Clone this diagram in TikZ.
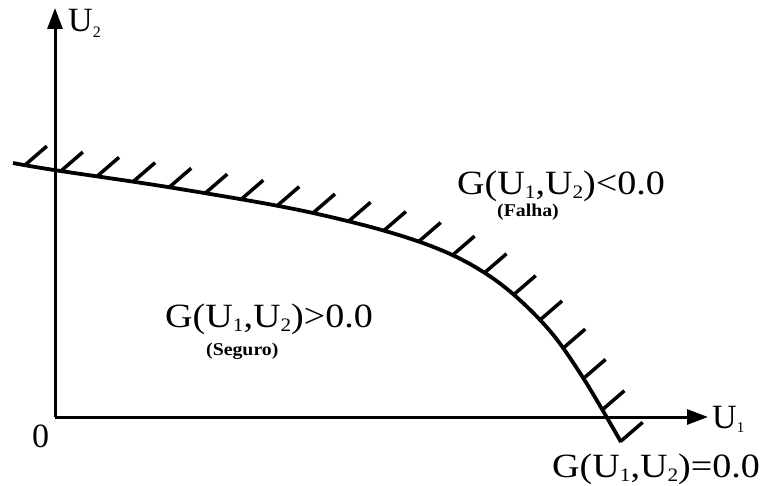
\documentclass[tikz,border=0pt]{standalone}
\usepackage{fontspec}
\usepackage{graphicx}
\setmainfont{Liberation Serif}
\usetikzlibrary{arrows.meta,decorations.markings}
\newcommand\mainsz{\fontsize{34}{36}\selectfont}
\newcommand\subsz[1]{\raisebox{-4pt}{\fontsize{19}{20}\selectfont #1}}
\newcommand\gfun[1]{\scalebox{1.12}[1]{\mainsz G(U\subsz{1},U\subsz{2})#1}}
\newcommand\regtag[1]{\scalebox{1.1}[1]{\fontsize{18}{19}\selectfont\bfseries #1}}
\begin{document}
\begin{tikzpicture}[x=1pt,y=-1pt,
  axis/.style={line width=3pt,-{Triangle[length=21pt,width=15pt]}},
  limit/.style={line width=3.8pt,line join=round,
    decoration={markings,
      mark=between positions 0.017 and 0.999 step 0.05168 with
        {\pgftransformresetnontranslations\draw[hatchline] (0,0) -- (22,-19);}},
    postaction={decorate}},
  hatchline/.style={line width=3.5pt},
  lbl/.style={inner sep=0pt,anchor=base west}]
\useasboundingbox (0,0) rectangle (770,486);
\coordinate (O) at (55,417);
\coordinate (ytip) at (55,8);
\coordinate (xtip) at (708,417);
\draw[axis] (O) -- (ytip);
\draw[axis] (O) -- (xtip);
\draw[limit] plot[smooth,tension=0.6] coordinates {(13,163) (54,170) (180,189) (313,213) (420,242) (488,275) (542,322) (580,373) (621,442)};
\node[lbl] (u2) at (68,32) {\mainsz U\raisebox{-6pt}{\fontsize{16}{17}\selectfont 2}};
\node[lbl] (u1) at (712,428) {\mainsz U\raisebox{-4pt}{\fontsize{15}{16}\selectfont 1}};
\node[lbl] (zero) at (32,447) {\mainsz 0};
\node[lbl] (gneg) at (457,195) {\gfun{<0.0}};
\node[lbl] (falha) at (497,217) {\regtag{(Falha)}};
\node[lbl] (gpos) at (165,327) {\gfun{>0.0}};
\node[lbl] (seguro) at (206,355) {\regtag{(Seguro)}};
\node[lbl] (gzero) at (552,477) {\gfun{=0.0}};
\end{tikzpicture}
\end{document}
